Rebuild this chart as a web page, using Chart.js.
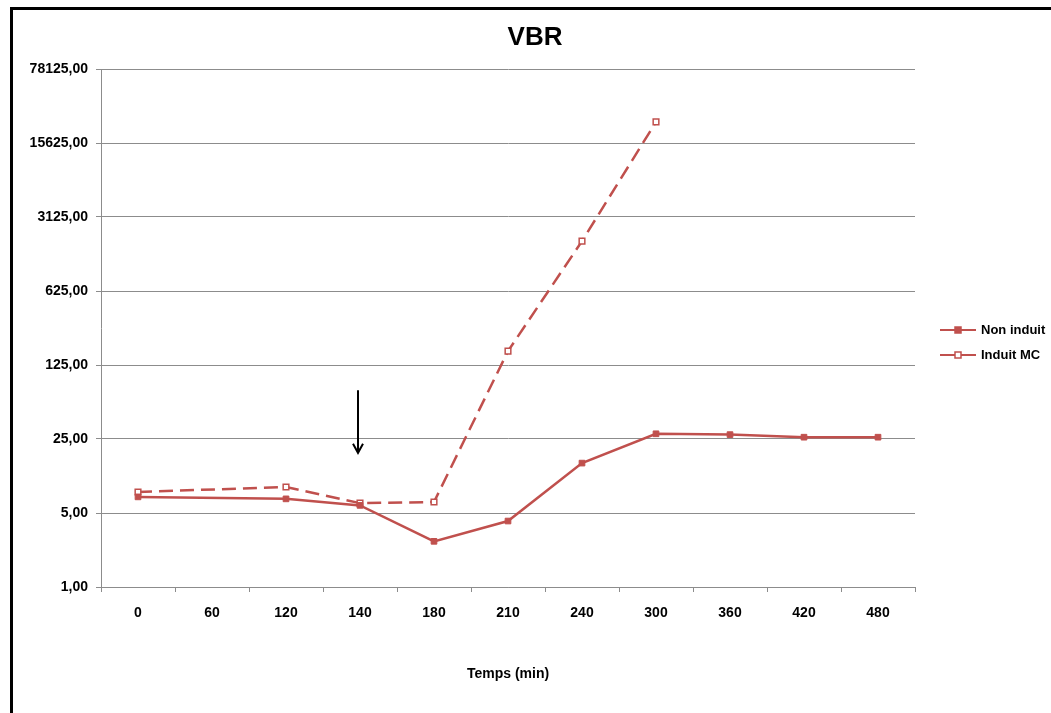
<!DOCTYPE html>
<html>
<head>
<meta charset="utf-8">
<title>VBR</title>
<script src="https://cdn.jsdelivr.net/npm/chart.js@4.4.1/dist/chart.umd.min.js"></script>
<style>
  html, body { margin: 0; padding: 0; background: #fff; }
  canvas { display: block; }
</style>
</head>
<body>
<canvas id="vbrChart" width="1051" height="713"></canvas>
<script>
// données
const temps = ['0', '60', '120', '140', '180', '210', '240', '300', '360', '420', '480'];
const nonInduit = [7.1, null, 6.8, 5.9, 2.7, 4.2, 14.8, 28, 27.5, 26, 26];
const induitMC = [7.9, null, 8.8, 6.2, 6.35, 169, 1850, 24700, null, null, null];
const yTicks = [1, 5, 25, 125, 625, 3125, 15625, 78125];

// flèche (injection) à t = 140
const arrowAt = '140';
const arrowFrom = 72;
const arrowTo = 18.5;

const rouge = '#C0504D';
const gris = '#8c8c8c';
const police = "'Liberation Sans', Arial, sans-serif";

const decor = {
    id: 'decor',
    beforeDraw(chart) {
        const ctx = chart.ctx;
        ctx.save();
        ctx.fillStyle = '#fff';
        ctx.fillRect(0, 0, chart.width, chart.height);
        ctx.restore();
    },
    afterDraw(chart) {
        const ctx = chart.ctx;
        const x = chart.scales.x;
        const y = chart.scales.y;
        ctx.save();

        // cadre
        ctx.strokeStyle = '#000';
        ctx.lineWidth = 3;
        ctx.strokeRect(11.5, 8.5, 1100, 800);

        // titre
        ctx.fillStyle = '#000';
        ctx.font = 'bold 26px ' + police;
        ctx.textAlign = 'center';
        ctx.textBaseline = 'middle';
        ctx.fillText('VBR', 535, 38);

        // flèche
        const ax = x.getPixelForValue(temps.indexOf(arrowAt)) - 2;
        const y1 = y.getPixelForValue(arrowFrom);
        const y2 = y.getPixelForValue(arrowTo);
        ctx.strokeStyle = '#000';
        ctx.lineWidth = 2;
        ctx.beginPath();
        ctx.moveTo(ax, y1);
        ctx.lineTo(ax, y2);
        ctx.moveTo(ax - 5, y2 - 9);
        ctx.lineTo(ax, y2);
        ctx.lineTo(ax + 5, y2 - 9);
        ctx.stroke();

        // légende
        const items = chart.data.datasets;
        items.forEach(function(ds, i) {
            const ly = 330 + i * 25;
            ctx.strokeStyle = rouge;
            ctx.lineWidth = 2;
            ctx.setLineDash([]);
            ctx.beginPath();
            ctx.moveTo(940, ly);
            ctx.lineTo(976, ly);
            ctx.stroke();
            ctx.fillStyle = ds.pointBackgroundColor;
            ctx.lineWidth = 1.5;
            ctx.fillRect(955, ly - 3, 6, 6);
            ctx.strokeRect(955, ly - 3, 6, 6);
            ctx.fillStyle = '#000';
            ctx.font = 'bold 13px ' + police;
            ctx.textAlign = 'left';
            ctx.textBaseline = 'middle';
            ctx.fillText(ds.label, 981, ly);
        });
        ctx.restore();
    }
};

const ctx = document.getElementById('vbrChart').getContext('2d');
const vbrChart = new Chart(ctx, {
    type: 'line',
    data: {
        labels: temps,
        datasets: [{
            label: 'Non induit',
            data: nonInduit,
            borderColor: rouge,
            backgroundColor: rouge,
            pointBackgroundColor: rouge,
            pointBorderColor: rouge,
            pointStyle: 'rect',
            pointRadius: 4,
            pointBorderWidth: 1,
            borderWidth: 2.5,
            spanGaps: true
        }, {
            label: 'Induit MC',
            data: induitMC,
            borderColor: rouge,
            backgroundColor: '#fff',
            pointBackgroundColor: '#fff',
            pointBorderColor: rouge,
            pointStyle: 'rect',
            pointRadius: 4,
            pointBorderWidth: 1.5,
            borderWidth: 2.5,
            borderDash: [14, 7],
            spanGaps: true
        }]
    },
    options: {
        responsive: false,
        animation: false,
        layout: { padding: { top: 69, right: 136, bottom: 0, left: 0 } },
        plugins: {
            legend: { display: false },
            title: { display: false },
            tooltip: { enabled: false }
        },
        scales: {
            x: {
                offset: true,
                grid: { offset: true, drawOnChartArea: false, tickLength: 5, color: gris },
                border: { color: gris },
                ticks: { color: '#000', font: { family: police, size: 14, weight: 'bold' }, padding: 13, maxRotation: 0 },
                title: {
                    display: true,
                    text: 'Temps (min)',
                    color: '#000',
                    font: { family: police, size: 14, weight: 'bold' },
                    padding: { top: 0, bottom: 30 }
                },
                afterFit: function(s) { s.height = 126; }
            },
            y: {
                type: 'logarithmic',
                min: 1,
                max: 78125,
                afterBuildTicks: function(s) {
                    s.ticks = yTicks.map(function(v) { return { value: v }; });
                },
                grid: { color: gris, tickLength: 5 },
                border: { color: gris },
                ticks: {
                    color: '#000',
                    font: { family: police, size: 14, weight: 'bold' },
                    padding: 8,
                    callback: function(v) { return Number(v).toFixed(2).replace('.', ','); }
                },
                afterFit: function(s) { s.width = 101; }
            }
        }
    },
    plugins: [decor]
});
</script>
</body>
</html>
